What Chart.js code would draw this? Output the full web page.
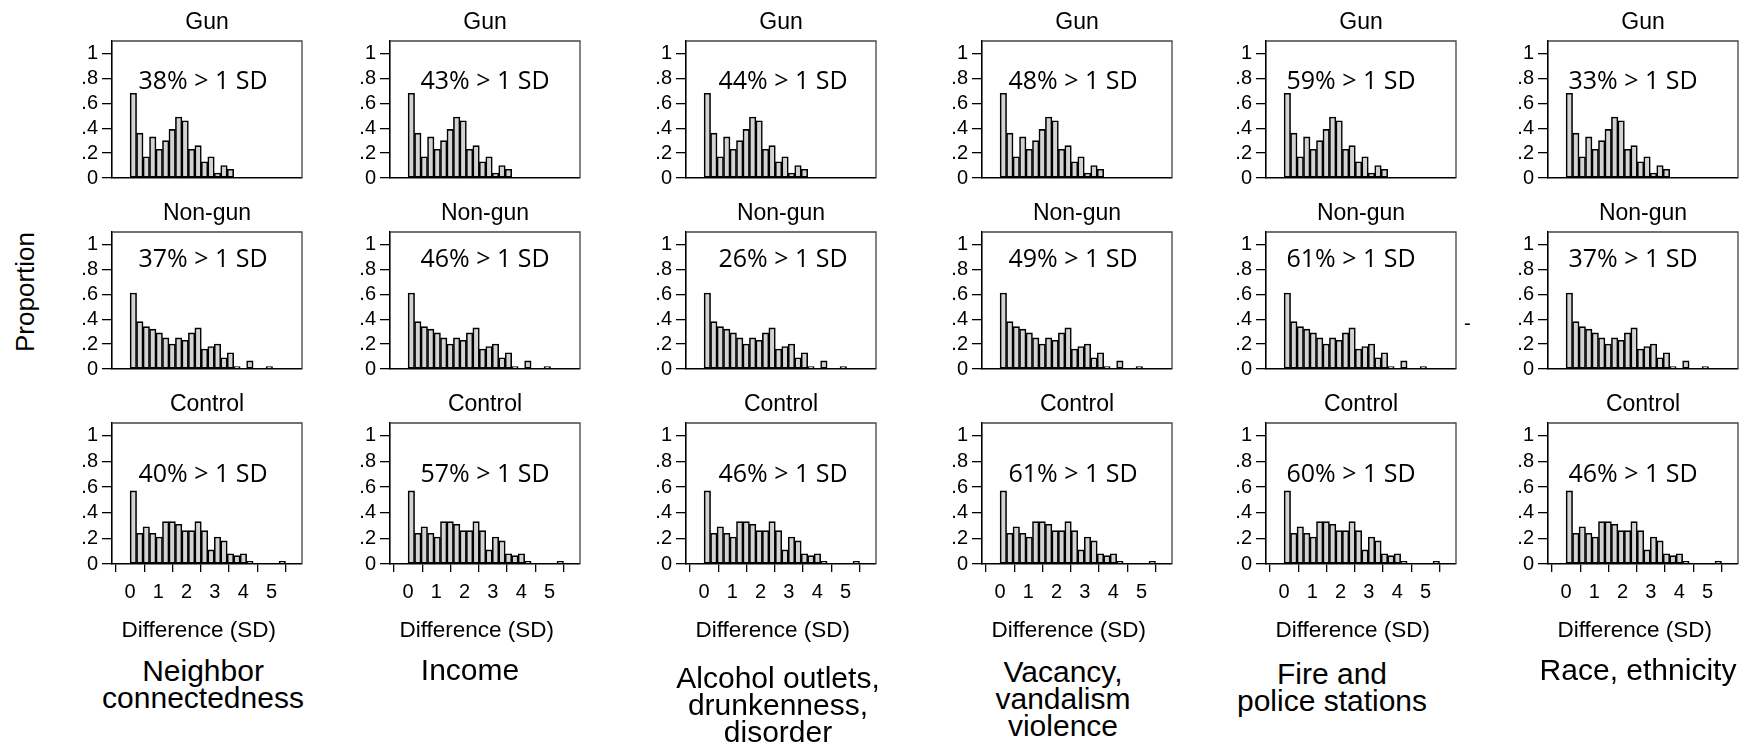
<!DOCTYPE html>
<html>
<head>
<meta charset="utf-8">
<script src="https://cdn.jsdelivr.net/npm/chart.js@4.4.1/dist/chart.umd.min.js"></script>
<style>
body { margin:0; background:#fff; width:1756px; height:744px; overflow:hidden; position:relative; font-family:"Liberation Sans", Arial, sans-serif; }
canvas.panel { position:absolute; }
.cat { position:absolute; font-size:30px; line-height:27px; text-align:center; color:#000; white-space:nowrap; transform:translateX(-50%); }
#ylab { position:absolute; left:25px; top:292px; font-size:26px; transform:translate(-50%,-50%) rotate(-90deg); white-space:nowrap; }
.mark { position:absolute; font-size:20px; line-height:20px; color:#000; }
</style>
</head>
<body>
<div id="ylab">Proportion</div>
<div class="mark" style="left:1464px; top:313px;">-</div>
<script>
// groups (rows) and outcome categories (columns)
const groups = ['Gun', 'Non-gun', 'Control'];
const categories = [
    ['Neighbor', 'connectedness'],
    ['Income'],
    ['Alcohol outlets,', 'drunkenness,', 'disorder'],
    ['Vacancy,', 'vandalism', 'violence'],
    ['Fire and', 'police stations'],
    ['Race, ethnicity']
];

// share of pairs with difference > 1 SD, per column
const gunPct = [38, 43, 44, 48, 59, 33];
const nonGunPct = [37, 46, 26, 49, 61, 37];
const controlPct = [40, 57, 46, 61, 60, 46];

// histogram bins (width in SD units), proportions per bin, starting at 0
const binWidth = 0.229;
const gunBins = [0.68, 0.36, 0.17, 0.33, 0.23, 0.30, 0.39, 0.49, 0.46, 0.23, 0.26, 0.13, 0.17, 0.04, 0.10, 0.07];
const nonGunBins = [0.61, 0.38, 0.34, 0.32, 0.29, 0.25, 0.20, 0.25, 0.23, 0.29, 0.33, 0.16, 0.18, 0.20, 0.09, 0.13, 0.02, null, 0.065, null, null, 0.02];
const controlBins = [0.57, 0.24, 0.29, 0.24, 0.21, 0.33, 0.33, 0.31, 0.26, 0.26, 0.33, 0.26, 0.11, 0.21, 0.18, 0.08, 0.065, 0.08, 0.02, null, null, null, null, 0.02];

const xTicks = [0, 1, 2, 3, 4, 5];
const yTicks = [0, 0.2, 0.4, 0.6, 0.8, 1];
const yTickLabels = ['0', '.2', '.4', '.6', '.8', '1'];

// layout (pixels)
const boxLeft = [112, 390, 686, 982, 1266, 1548];
const boxTop = [41, 232, 423];
const boxW = 190, boxH = 141;
const noteDy = [41, 28, 52];
const noteDx = [-4, 0, 2, -4, -10, -10];
const catX = [203, 470, 778, 1063, 1332, 1638];
const catTop = [657, 656, 664, 658, 660, 656];

const rowBins = [gunBins, nonGunBins, controlBins];
const rowPct = [gunPct, nonGunPct, controlPct];

const axisFont = { family: '"Liberation Sans", Arial, sans-serif', size: 20 };

const panelText = {
    id: 'panelText',
    afterDraw(chart, args, opts) {
        const ctx = chart.ctx;
        const a = chart.chartArea;
        const cx = (a.left + a.right) / 2;
        ctx.save();
        // top and right frame lines
        ctx.strokeStyle = '#444';
        ctx.lineWidth = 1.3;
        ctx.beginPath();
        ctx.moveTo(a.left, a.top);
        ctx.lineTo(a.right, a.top);
        ctx.lineTo(a.right, a.bottom);
        ctx.stroke();

        ctx.fillStyle = '#000';
        ctx.textAlign = 'center';
        ctx.textBaseline = 'middle';
        ctx.font = '23px "Liberation Sans", Arial, sans-serif';
        ctx.fillText(opts.title, cx, a.top - 18);
        ctx.font = '25px "Open Sans", sans-serif';
        ctx.fillText(opts.note, cx + opts.dx, a.top + opts.dy);
        if (opts.xTitle) {
            ctx.font = '22.5px "Liberation Sans", Arial, sans-serif';
            ctx.fillText(opts.xTitle, chart.scales.x.getPixelForValue(2.5) - 2, a.bottom + 67);
        }
        ctx.restore();
    }
};

function binPoints(bins) {
    return bins.map((v, i) => ({ x: (i + 0.5) * binWidth, y: v }));
}

for (let r = 0; r < groups.length; r++) {
    for (let c = 0; c < categories.length; c++) {
        const bottomRow = r === groups.length - 1;
        const padTop = 45, yWidth = 60, padRight = 6;
        const xHeight = bottomRow ? 90 : 12;
        const canvas = document.createElement('canvas');
        canvas.className = 'panel';
        canvas.width = yWidth + boxW + padRight;
        canvas.height = padTop + boxH + xHeight;
        canvas.style.left = (boxLeft[c] - yWidth) + 'px';
        canvas.style.top = (boxTop[r] - padTop) + 'px';
        document.body.appendChild(canvas);

        new Chart(canvas, {
            type: 'bar',
            data: {
                datasets: [{
                    data: binPoints(rowBins[r]),
                    backgroundColor: '#d3d3d3',
                    borderColor: '#000',
                    borderWidth: 1.6,
                    borderSkipped: false,
                    barPercentage: 1,
                    categoryPercentage: 1
                }]
            },
            options: {
                responsive: false,
                animation: false,
                devicePixelRatio: 1,
                layout: { padding: { top: padTop, right: padRight, left: 0, bottom: 0 } },
                plugins: {
                    legend: { display: false },
                    tooltip: { enabled: false },
                    panelText: {
                        title: groups[r],
                        note: rowPct[r][c] + '% > 1 SD',
                        dx: noteDx[c],
                        dy: noteDy[r],
                        xTitle: bottomRow ? 'Difference (SD)' : null
                    }
                },
                scales: {
                    x: {
                        type: 'linear',
                        offset: false,
                        min: -0.64,
                        max: 6.08,
                        afterFit: s => { s.height = xHeight; },
                        afterBuildTicks: s => { s.ticks = xTicks.map(v => ({ value: v })); },
                        border: { display: true, color: '#000', width: 1.6 },
                        grid: { display: bottomRow, drawOnChartArea: false, drawTicks: true, tickLength: 8, color: '#000', lineWidth: 1.3 },
                        ticks: { display: bottomRow, autoSkip: false, maxRotation: 0, padding: 8, color: '#000', font: axisFont }
                    },
                    y: {
                        min: 0,
                        max: 1.1,
                        afterFit: s => { s.width = yWidth; },
                        afterBuildTicks: s => { s.ticks = yTicks.map(v => ({ value: v })); },
                        border: { display: true, color: '#000', width: 1.6 },
                        grid: { drawOnChartArea: false, drawTicks: true, tickLength: 10, color: '#000', lineWidth: 1.3 },
                        ticks: {
                            padding: 4,
                            color: '#000',
                            font: axisFont,
                            callback: v => yTickLabels[yTicks.indexOf(v)] ?? ''
                        }
                    }
                }
            },
            plugins: [panelText]
        });
    }
}

// outcome labels under each column
categories.forEach((lines, c) => {
    const d = document.createElement('div');
    d.className = 'cat';
    d.style.left = catX[c] + 'px';
    d.style.top = catTop[c] + 'px';
    d.innerHTML = lines.join('<br>');
    document.body.appendChild(d);
});
</script>
</body>
</html>
